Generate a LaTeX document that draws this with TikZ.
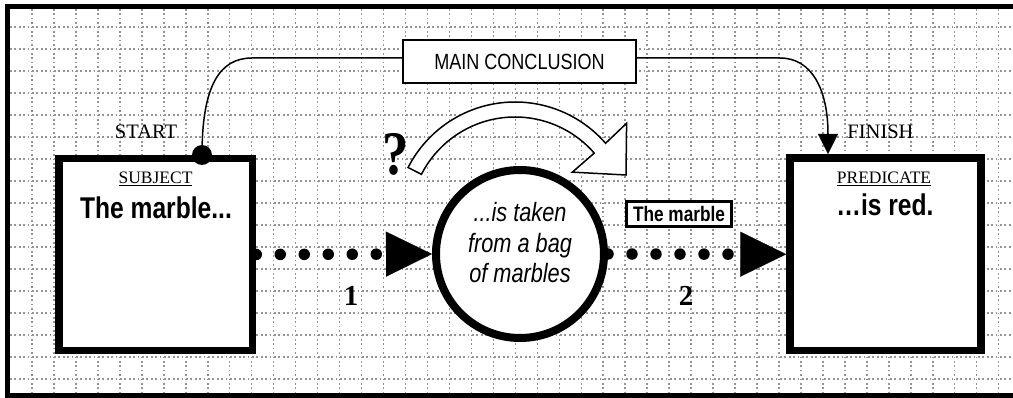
\documentclass[tikz,border=0pt]{standalone}
\usepackage{fontspec}
\setmainfont{Liberation Serif}
\newfontfamily\nsans[FakeStretch=0.82]{Liberation Sans}
\usetikzlibrary{arrows.meta,calc}
\begin{document}
\begin{tikzpicture}[x=1pt,y=1pt,
  gridline/.style={draw=black!42,line width=1.5pt,dash pattern=on 1.7pt off 2.7pt},
  bigbox/.style={draw,line width=7.5pt,fill=white,inner sep=0pt},
  dotline/.style={line width=11.5pt,line cap=round,dash pattern=on 0pt off 24pt,
     -{Triangle[length=46pt,width=45pt,line width=0.1pt]}},
  conn/.style={line width=1.5pt,-{Triangle[length=20pt,width=20pt,line width=0.1pt]}},
  serlabel/.style={anchor=base,font=\fontsize{20.5}{24}\selectfont},
  boxtitle/.style={anchor=base,font=\fontsize{17.5}{20}\selectfont},
  bigtext/.style={anchor=base,font=\nsans\bfseries\fontsize{30}{36}\selectfont},
  numlabel/.style={anchor=base,font=\bfseries\fontsize{29}{32}\selectfont},
  hollow/.style={draw,fill=white,line width=1.5pt,line join=miter}]
\useasboundingbox (0,0) rectangle (1013,-398);
\clip (0,0) rectangle (1013,-398);
\fill[white] (0,0) rectangle (1013,-398);
% grid
\foreach \k in {0,...,44} \draw[gridline] ({32+21.97*\k},-9) -- ({32+21.97*\k},-393);
\foreach \k in {0,...,16} \draw[gridline] (10,{-27-22*\k}) -- (1013,{-27-22*\k});
% frame
\draw[line width=5.5pt] (1030,-6.5) -- (7.5,-6.5) -- (7.5,-395.5) -- (1030,-395.5);
% main boxes
\node[bigbox,minimum width=193.5pt,minimum height=192pt] (subj) at (155.75,-254.5) {};
\node[bigbox,minimum width=191pt,minimum height=192.5pt] (pred) at (885.5,-254.25) {};
\node[circle,draw,line width=8pt,fill=white,minimum size=168pt,inner sep=0pt] (circ) at (520,-254) {};
% dotted connectors
\draw[dotline] (subj.east) -- (circ.west);
\draw[dotline] (circ.east) -- (pred.west);
% main conclusion connector
\coordinate (sdot) at (202,-155);
\coordinate (lt) at (252,-58);
\coordinate (rt) at (780,-58);
\coordinate (fin) at (828,-154);
\draw[conn] (sdot) .. controls (202,-85) and (220,-58) .. (lt) -- (rt)
   .. controls (812,-58) and (828,-90) .. (fin);
\fill (sdot) circle (10pt);
\node[draw,line width=1.6pt,fill=white,minimum width=233pt,minimum height=43pt,inner sep=0pt,
   font=\nsans\fontsize{22}{26}\selectfont] (mc) at (519.5,-61.5) {MAIN CONCLUSION};
% hollow curved arrow
\begin{scope}[shift={(515,-222)}]
\draw[hollow] (153:120) arc[start angle=153,end angle=41,radius=120pt]
   -- (41.5:149) -- (111,47) -- (41:76) -- (41:105)
   arc[start angle=41,end angle=153,radius=105pt] -- cycle;
\end{scope}
\node[anchor=base,font=\bfseries\fontsize{62}{62}\selectfont] (q) at (395.5,-175) {\scalebox{0.85}[1]{?}};
% texts
\node[serlabel] (start) at (146,-139) {START};
\node[serlabel] (finish) at (880.5,-139) {FINISH};
\node[boxtitle] (subjt) at (155.5,-184) {\underline{SUBJECT}};
\node[boxtitle] (predt) at (884,-184) {\underline{PREDICATE}};
\node[bigtext] (subjx) at (156,-219) {The marble...};
\node[bigtext] (predx) at (885,-216) {…is red.};
\node[align=center,font=\nsans\itshape\fontsize{26.5}{30.5}\selectfont] (ctext) at (520,-243)
   {...is taken\\from a bag\\of marbles};
\node[draw,line width=3pt,fill=white,minimum width=105pt,minimum height=25pt,inner sep=0pt,
   font=\nsans\bfseries\fontsize{21}{24}\selectfont] (tm) at (679,-214) {The marble};
\node[numlabel] (n1) at (351,-306) {1};
\node[numlabel] (n2) at (686,-306) {2};
\end{tikzpicture}
\end{document}
